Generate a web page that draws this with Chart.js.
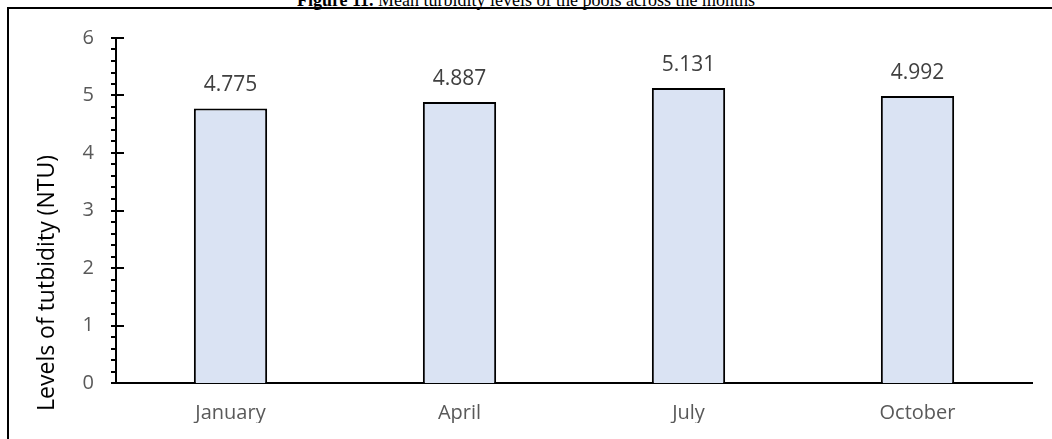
<!DOCTYPE html>
<html>
<head>
<meta charset="utf-8">
<script src="https://cdn.jsdelivr.net/npm/chart.js@4/dist/chart.umd.min.js"></script>
<style>
  html, body { margin: 0; padding: 0; background: #fff; }
  #wrap { position: relative; width: 1052px; height: 439px; overflow: hidden; }
  #cap {
    position: absolute; left: 0; width: 1052px; top: -10px;
    text-align: center; font-family: "Liberation Serif", serif; font-size: 18px; color: #000;
  }
  #frame {
    position: absolute; left: 7px; top: 7px; width: 1060px; height: 440px;
    border-top: 2px solid #000; border-left: 2px solid #000;
  }
  #c { position: absolute; left: 0; top: 0; }
</style>
</head>
<body>
<div id="wrap">
  <div id="cap"><b>Figure 11.</b> Mean turbidity levels of the pools across the months</div>
  <div id="frame"></div>
  <canvas id="c" width="1052" height="439"></canvas>
</div>
<script>
var months = ["January", "April", "July", "October"];
var turbidity = [4.775, 4.887, 5.131, 4.992];
var yMin = 0, yMax = 6, yStep = 1, yMinorStep = 0.2;
var yTitle = 'Levels of tutbidity (NTU)';

// value labels above the bars
var barLabels = {
  id: 'barLabels',
  afterDatasetsDraw: function(chart) {
    var ctx = chart.ctx;
    var meta = chart.getDatasetMeta(0);
    ctx.save();
    ctx.font = '21px "Open Sans"';
    ctx.fillStyle = '#404040';
    ctx.textAlign = 'center';
    ctx.textBaseline = 'alphabetic';
    meta.data.forEach(function(bar, i) {
      ctx.fillText(turbidity[i].toFixed(3), bar.x, bar.y - 17);
    });
    ctx.restore();
  }
};

// excel-style major + minor tick marks on the y axis, plus the axis title
var yTicks = {
  id: 'yTicks',
  afterDraw: function(chart) {
    var ctx = chart.ctx;
    var s = chart.scales.y;
    var x = chart.chartArea.left;
    ctx.save();
    ctx.strokeStyle = '#000';
    ctx.lineWidth = 2;
    ctx.beginPath();
    var n = Math.round((yMax - yMin) / yMinorStep);
    for (var k = 0; k <= n; k++) {
      var v = yMin + k * yMinorStep;
      var py = Math.round(s.getPixelForValue(v));
      var major = Math.abs(v / yStep - Math.round(v / yStep)) < 1e-6;
      ctx.moveTo(x - 5, py);
      ctx.lineTo(major ? x + 8 : x, py);
    }
    ctx.stroke();

    // title sits a bit below the axis middle, like the excel original
    ctx.translate(47, 283);
    ctx.rotate(-Math.PI / 2);
    ctx.font = '23px "Open Sans"';
    ctx.fillStyle = '#000';
    ctx.textAlign = 'center';
    ctx.textBaseline = 'middle';
    ctx.fillText(yTitle, 0, 0);
    ctx.restore();
  }
};

new Chart(document.getElementById('c'), {
  type: 'bar',
  data: {
    labels: months,
    datasets: [{
      data: turbidity,
      backgroundColor: '#DAE3F3',
      borderColor: '#000',
      borderWidth: 2,
      barPercentage: 0.32,
      categoryPercentage: 1.0
    }]
  },
  options: {
    responsive: false,
    animation: false,
    devicePixelRatio: 1,
    layout: { padding: { left: 8, right: 20, top: 38, bottom: 16 } },
    plugins: {
      legend: { display: false },
      tooltip: { enabled: false }
    },
    scales: {
      x: {
        grid: { display: false, drawTicks: false },
        border: { display: true, color: '#000', width: 2 },
        ticks: { color: '#595959', font: { family: 'Open Sans', size: 20 }, padding: 18 },
        afterFit: function(s) { s.height = 40; }
      },
      y: {
        min: yMin, max: yMax,
        grid: { display: false, drawTicks: false },
        border: { display: true, color: '#000', width: 2 },
        ticks: { stepSize: yStep, color: '#595959', font: { family: 'Open Sans', size: 20 }, padding: 22 },
        afterFit: function(s) { s.width = 108; }
      }
    }
  },
  plugins: [barLabels, yTicks]
});
</script>
</body>
</html>
